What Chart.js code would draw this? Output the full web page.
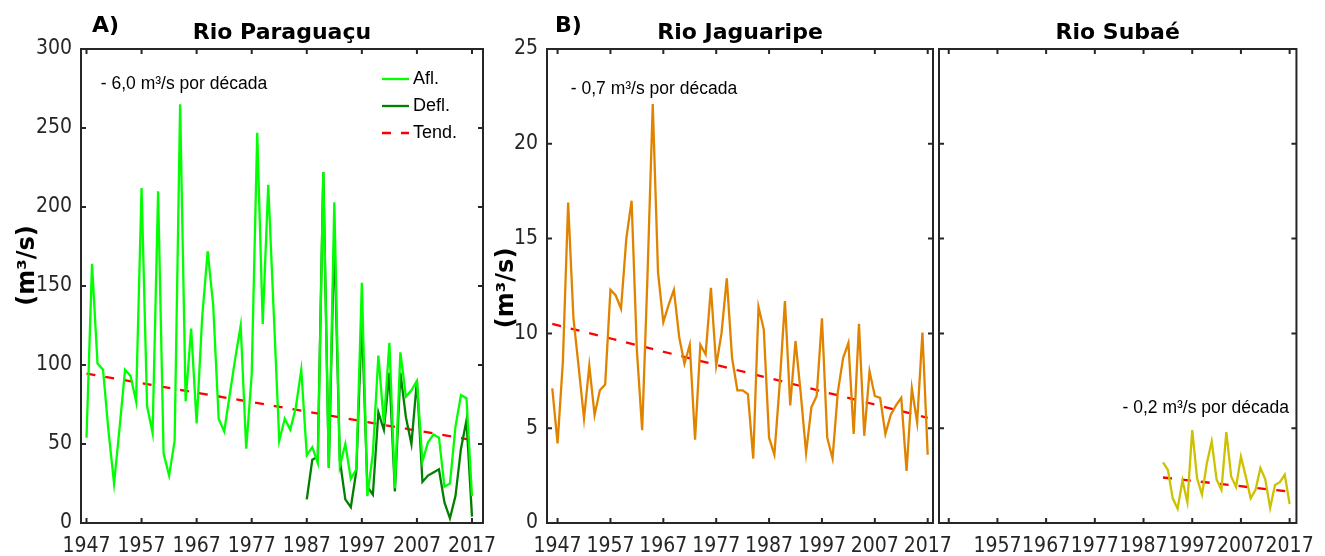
<!DOCTYPE html>
<html>
<head>
<meta charset="utf-8">
<script src="https://cdn.jsdelivr.net/npm/chart.js@4/dist/chart.umd.min.js"></script>
<style>
  html, body { margin: 0; padding: 0; background: #fff; }
  #wrap { position: relative; width: 1325px; height: 556px; }
  #wrap canvas { position: absolute; left: 0; top: 0; }
</style>
</head>
<body>
<div id="wrap">
  <canvas id="chart-a" width="1325" height="556"></canvas>
  <canvas id="chart-b" width="1325" height="556"></canvas>
  <canvas id="chart-c" width="1325" height="556"></canvas>
</div>
<script>
// annual mean flow, m³/s
function range(a, b) { const r = []; for (let v = a; v <= b; v++) r.push(v); return r; }

const tickYears = [1947, 1957, 1967, 1977, 1987, 1997, 2007, 2017];

// Rio Paraguaçu
const yearsAfl = range(1947, 2017);
const paraguacuAfl = [
  54, 164, 101, 97, 58, 25, 60, 97, 93, 77,
  212, 74, 57, 210, 44, 30, 52, 265, 77, 123,
  63, 130, 172, 138, 66, 58, 81, 104, 125, 47,
  94, 247, 126, 214, 133, 52, 66, 59, 73, 97,
  43, 48, 38, 222, 35, 203, 36, 50, 28, 34,
  152, 17, 44, 106, 63, 114, 22, 108, 80, 84,
  90, 39, 51, 56, 54, 23, 25, 61, 81, 79,
  17
];
const yearsDefl = range(1987, 2017);
const paraguacuDefl = [
  15, 40, 42, 222, 35, 182, 40, 15, 10, 33,
  129, 23, 18, 70, 59, 95, 20, 95, 67, 50,
  90, 26, 30, 32, 34, 13, 3, 17, 47, 65,
  4
];
const paraguacuTrendYears = [1947, 2017];
const paraguacuTrend = [94.5, 52.5];

// Rio Jaguaripe
const yearsJaguaripe = range(1946, 2017);
const jaguaripe = [
  7.1, 4.2, 8.5, 16.9, 10.8, 8.2, 5.5, 8.3, 5.7, 7.0,
  7.3, 12.3, 12.0, 11.3, 15.0, 17.0, 9.1, 4.9, 13.0, 22.1,
  13.2, 10.6, 11.5, 12.3, 9.8, 8.4, 9.4, 4.4, 9.4, 8.9,
  12.4, 8.3, 10.0, 12.9, 8.7, 7.0, 7.0, 6.8, 3.4, 11.4,
  10.2, 4.5, 3.6, 7.3, 11.7, 6.2, 9.6, 6.8, 3.7, 6.1,
  6.7, 10.8, 4.5, 3.4, 6.9, 8.7, 9.5, 4.7, 10.5, 4.6,
  8.0, 6.7, 6.6, 4.7, 5.7, 6.2, 6.6, 2.75, 7.1, 5.3,
  10.05, 3.6
];
const jaguaripeTrendYears = [1946, 2017];
const jaguaripeTrend = [10.5, 5.55];

// Rio Subaé
const yearsSubae = range(1991, 2017);
const subae = [
  3.2, 2.8, 1.3, 0.75, 2.25, 1.1, 4.9, 2.35, 1.5, 3.15,
  4.3, 2.3, 1.75, 4.8, 2.45, 1.9, 3.5, 2.45, 1.3, 1.75,
  2.9, 2.3, 0.8, 2.0, 2.15, 2.55, 1.0
];
const subaeTrendYears = [1991, 2017];
const subaeTrend = [2.4, 1.65];

const pairs = (xs, ys) => xs.map((x, i) => ({ x: x, y: ys[i] }));

const AXIS = '#262626';
const TICK_FONT = { family: "'DejaVu Sans Condensed', 'DejaVu Sans', sans-serif", size: 21 };
const BOLD = "bold 22px 'DejaVu Sans', sans-serif";
const YTITLE = "bold 24px 'DejaVu Sans', sans-serif";
const NOTE = "17.5px 'Liberation Sans', Arial, sans-serif";
const W = 1325, H = 556;

// box round the plot area with inward tick marks on all four sides
const frameTicks = {
  id: 'frameTicks',
  beforeDatasetsDraw(chart) {
    const { ctx, chartArea: a, scales: { x, y } } = chart;
    ctx.save();
    ctx.strokeStyle = AXIS;
    ctx.lineWidth = 2;
    ctx.beginPath();
    x.ticks.forEach(t => {
      const px = x.getPixelForValue(t.value);
      ctx.moveTo(px, a.bottom); ctx.lineTo(px, a.bottom - 5);
      ctx.moveTo(px, a.top); ctx.lineTo(px, a.top + 5);
    });
    y.ticks.forEach(t => {
      const py = y.getPixelForValue(t.value);
      ctx.moveTo(a.left, py); ctx.lineTo(a.left + 5, py);
      ctx.moveTo(a.right, py); ctx.lineTo(a.right - 5, py);
    });
    ctx.stroke();
    ctx.strokeRect(a.left, a.top, a.right - a.left, a.bottom - a.top);
    ctx.restore();
  }
};

// panel title, panel letter, y axis title and the trend note
const panelText = {
  id: 'panelText',
  afterDraw(chart, args, opts) {
    const { ctx, chartArea: a, scales: { x, y } } = chart;
    ctx.save();
    ctx.fillStyle = '#000';
    ctx.textBaseline = 'middle';
    ctx.font = BOLD;
    ctx.textAlign = 'center';
    ctx.fillText(opts.title, (a.left + a.right) / 2, a.top - 16);
    if (opts.tag) {
      ctx.textAlign = 'left';
      ctx.fillText(opts.tag, a.left + opts.tagDx, a.top - 23);
    }
    if (opts.yTitle) {
      ctx.save();
      ctx.font = YTITLE;
      ctx.textAlign = 'center';
      ctx.translate(a.left - opts.yTitle.dx, y.getPixelForValue(opts.yTitle.at));
      ctx.rotate(-Math.PI / 2);
      ctx.fillText(opts.yTitle.text, 0, 0);
      ctx.restore();
    }
    if (opts.note) {
      ctx.font = NOTE;
      ctx.textAlign = 'left';
      ctx.fillText(opts.note.text, x.getPixelForValue(opts.note.x), y.getPixelForValue(opts.note.y));
    }
    ctx.restore();
  }
};

// legend box in the upper right corner of the plot
const cornerLegend = {
  id: 'cornerLegend',
  afterDraw(chart, args, opts) {
    if (!opts.show) return;
    const { ctx, chartArea: a } = chart;
    ctx.save();
    ctx.font = "18px 'Liberation Sans', Arial, sans-serif";
    ctx.textBaseline = 'middle';
    ctx.textAlign = 'left';
    chart.data.datasets.forEach((ds, i) => {
      const yy = a.top + 30 + i * 27;
      ctx.strokeStyle = ds.borderColor;
      ctx.lineWidth = ds.borderWidth;
      ctx.setLineDash(ds.borderDash || []);
      ctx.beginPath();
      ctx.moveTo(a.right - 101, yy);
      ctx.lineTo(a.right - 74, yy);
      ctx.stroke();
      ctx.setLineDash([]);
      ctx.fillStyle = '#000';
      ctx.fillText(ds.label, a.right - 70, yy);
    });
    ctx.restore();
  }
};

function lineSet(label, data, color, dash) {
  return {
    label: label,
    data: data,
    borderColor: color,
    backgroundColor: color,
    borderWidth: 2.3,
    borderDash: dash || [],
    pointRadius: 0,
    tension: 0,
    fill: false
  };
}

function panel(id, cfg) {
  return new Chart(document.getElementById(id), {
    type: 'line',
    data: { datasets: cfg.datasets },
    plugins: [frameTicks, panelText, cornerLegend],
    options: {
      responsive: false,
      animation: false,
      layout: { padding: { left: cfg.left - cfg.yWidth, right: W - cfg.right, top: 49, bottom: 0 } },
      scales: {
        x: {
          type: 'linear',
          min: cfg.xMin,
          max: cfg.xMax,
          afterBuildTicks: s => { s.ticks = tickYears.map(v => ({ value: v })); },
          afterFit: s => { s.height = H - 523; },
          grid: { display: false, drawTicks: false },
          border: { display: false },
          ticks: {
            autoSkip: false,
            maxRotation: 0,
            padding: 11,
            color: AXIS,
            font: TICK_FONT,
            callback: v => (cfg.skipFirst && v === tickYears[0]) ? '' : String(v)
          }
        },
        y: {
          min: 0,
          max: cfg.yMax,
          afterFit: s => { s.width = cfg.yWidth; },
          grid: { display: false, drawTicks: false },
          border: { display: false },
          ticks: {
            stepSize: cfg.yStep,
            display: cfg.yLabels,
            padding: 9,
            color: AXIS,
            font: TICK_FONT
          }
        }
      },
      plugins: {
        legend: { display: false },
        tooltip: { enabled: false },
        panelText: cfg.text,
        cornerLegend: { show: !!cfg.legend }
      }
    }
  });
}

panel('chart-a', {
  left: 81, right: 483, yWidth: 81,
  xMin: 1946, xMax: 2019, yMax: 300, yStep: 50, yLabels: true, legend: true,
  datasets: [
    lineSet('Afl.', pairs(yearsAfl, paraguacuAfl), '#00ff00'),
    lineSet('Defl.', pairs(yearsDefl, paraguacuDefl), '#008000'),
    lineSet('Tend.', pairs(paraguacuTrendYears, paraguacuTrend), '#ff0000', [9, 10])
  ],
  text: {
    title: 'Rio Paraguaçu', tag: 'A)', tagDx: 11,
    yTitle: { text: '(m³/s)', dx: 53, at: 163 },
    note: { text: '- 6,0 m³/s por década', x: 1949.6, y: 278 }
  }
});

panel('chart-b', {
  left: 547, right: 933, yWidth: 60,
  xMin: 1945, xMax: 2018, yMax: 25, yStep: 5, yLabels: true,
  datasets: [
    lineSet('Jaguaripe', pairs(yearsJaguaripe, jaguaripe), '#e08400'),
    lineSet('Tend.', pairs(jaguaripeTrendYears, jaguaripeTrend), '#ff0000', [9, 10])
  ],
  text: {
    title: 'Rio Jaguaripe', tag: 'B)', tagDx: 8,
    yTitle: { text: '(m³/s)', dx: 40, at: 12.4 },
    note: { text: '- 0,7 m³/s por década', x: 1949.5, y: 22.9 }
  }
});

panel('chart-c', {
  left: 939, right: 1307, yWidth: 4, skipFirst: true,
  xMin: 1945, xMax: 2018.4, yMax: 25, yStep: 5, yLabels: false,
  datasets: [
    lineSet('Subaé', pairs(yearsSubae, subae), '#ccc200'),
    lineSet('Tend.', pairs(subaeTrendYears, subaeTrend), '#ff0000', [9, 10])
  ],
  text: { title: 'Rio Subaé', note: { text: '- 0,2 m³/s por década', x: 1982.7, y: 6.05 } }
});
</script>
</body>
</html>
